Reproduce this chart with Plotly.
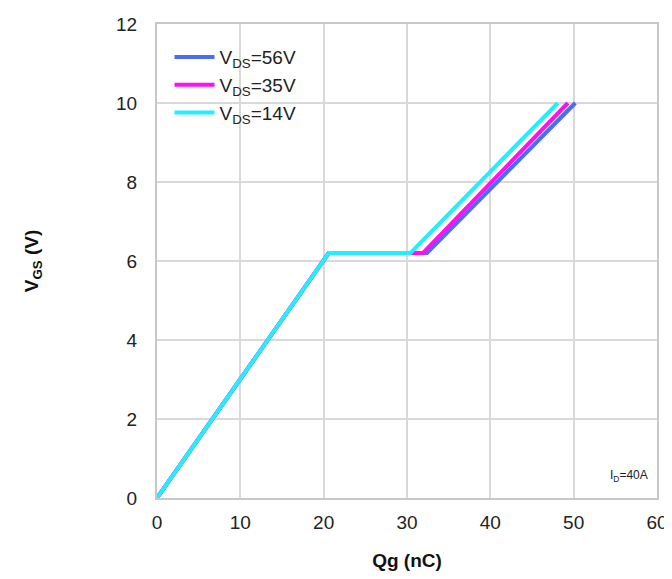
import plotly.graph_objects as go

qg_56 = [0, 20.6, 32.4, 50.2]
vgs_56 = [0, 6.2, 6.2, 10.0]
qg_35 = [0, 20.6, 31.9, 49.3]
vgs_35 = [0, 6.2, 6.2, 10.0]
qg_14 = [0, 20.6, 30.4, 48.1]
vgs_14 = [0, 6.2, 6.2, 10.0]

series = [
    ("V<sub>DS</sub>=56V", qg_56, vgs_56, "#4a6ef2"),
    ("V<sub>DS</sub>=35V", qg_35, vgs_35, "#ff10f0"),
    ("V<sub>DS</sub>=14V", qg_14, vgs_14, "#22eeff"),
]

fig = go.Figure()
for name, x, y, c in series:
    fig.add_trace(go.Scatter(x=x, y=y, mode="lines", name=name,
                             line=dict(color=c, width=4)))

fig.update_layout(
    width=664, height=571,
    margin=dict(l=149, r=15, t=16, b=81),
    plot_bgcolor="white", paper_bgcolor="white",
    font=dict(family="Liberation Sans, Arial, sans-serif", size=19, color="#222"),
    showlegend=True,
    legend=dict(x=0.025, y=0.97, xanchor="left", yanchor="top",
                bgcolor="rgba(255,255,255,0)", font=dict(size=19),
                tracegroupgap=0, itemwidth=40),
)
fig.update_xaxes(range=[0, 60], dtick=10, showgrid=True, gridcolor="#d9d9d9", gridwidth=2,
                 showline=True, linecolor="#c8c8c8", linewidth=2, mirror=True,
                 zeroline=False, ticks="", ticklabelstandoff=6, automargin=False,
                 title=dict(text="<b>Qg (nC)</b>", font=dict(size=19, color="#111"), standoff=22))
fig.update_yaxes(range=[0, 12], dtick=2, showgrid=True, gridcolor="#d9d9d9", gridwidth=2,
                 showline=True, linecolor="#c8c8c8", linewidth=2, mirror=True,
                 zeroline=False, ticks="", ticklabelstandoff=14, automargin=False,
                 title=dict(text="<b>V<sub>GS</sub> (V)</b>", font=dict(size=19, color="#111"), standoff=72))
fig.add_annotation(x=0.985, y=0.025, xref="paper", yref="paper", xanchor="right", yanchor="bottom",
                   text="I<sub>D</sub>=40A", showarrow=False, font=dict(size=12, color="#222"))

fig.write_html("out.html")
